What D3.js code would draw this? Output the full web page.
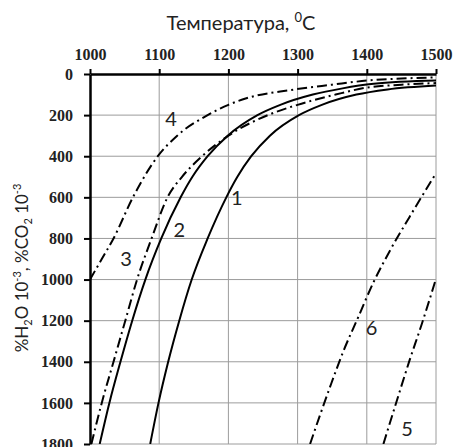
<!DOCTYPE html>
<html>
<head>
<meta charset="utf-8">
<script src="https://cdn.jsdelivr.net/npm/d3@7"></script>
<style>
  body { margin: 0; background: #fff; }
  svg { display: block; }
</style>
</head>
<body>
<svg id="chart" width="455" height="447"></svg>
<script>
// values: temperature (°C), concentration (10^-3 %)
var xTicks = [1000, 1100, 1200, 1300, 1400, 1500];
var yTicks = [0, 200, 400, 600, 800, 1000, 1200, 1400, 1600, 1800];

var curve1 = [[1087,1800],[1099,1600],[1113,1400],[1129,1200],[1147,1000],[1170,800],[1197,600],
  [1213,500],[1233,400],[1260,300],[1302,200],[1335,150],[1385,100],[1430,75],[1500,56]];
var curve2 = [[1014,1800],[1028,1600],[1044,1400],[1061,1200],[1080,1000],[1103,800],[1131,600],
  [1148,500],[1170,400],[1199,300],[1242,200],[1275,150],[1322,100],[1365,70],[1410,48],[1500,32]];
var curve3 = [[1002,1800],[1017,1600],[1034,1400],[1051,1200],[1068,1000],[1089,800],[1112,600],
  [1133,500],[1162,400],[1200,300],[1257,200],[1300,150],[1355,100],[1400,66],[1450,52],[1500,44]];
var curve4 = [[1000,1000],[1017,900],[1034,800],[1062,600],[1098,400],[1126,300],[1170,200],
  [1200,150],[1226,118],[1290,78],[1350,52],[1400,32],[1450,22],[1500,17]];
var curve5 = [[1424,1800],[1446,1561],[1462,1391],[1479,1221],[1500,996]];
var curve6 = [[1318,1800],[1347,1521],[1366,1350],[1388,1180],[1409,1018],[1434,856],[1462,694],[1500,483]];

var curveNames = ["1", "2", "3", "4", "5", "6"];
var curveData = [curve1, curve2, curve3, curve4, curve5, curve6];
var curveDashed = [false, false, true, true, true, true];

// where the curve numbers sit (in data units)
var labelT = [1212, 1129, 1052, 1117, 1458, 1407];
var labelV = [600, 760, 900, 219, 1727, 1235];

var svg = d3.select("#chart");

var x = d3.scaleLinear().domain([1000, 1500]).range([90, 436]);
var y = d3.scaleLinear().domain([0, 1800]).range([74, 444]);

var textColor = "#222";

// grid
svg.append("g")
  .selectAll("line")
  .data(xTicks.slice(1))
  .enter().append("line")
  .attr("x1", d => x(d)).attr("x2", d => x(d))
  .attr("y1", y(0)).attr("y2", y(1800))
  .attr("stroke", "#9c9c9c").attr("stroke-width", 1);

svg.append("g")
  .selectAll("line")
  .data(yTicks.slice(1))
  .enter().append("line")
  .attr("x1", x(1000)).attr("x2", x(1500))
  .attr("y1", d => y(d)).attr("y2", d => y(d))
  .attr("stroke", "#9c9c9c").attr("stroke-width", 1);

// curves
svg.append("clipPath").attr("id", "plotClip")
  .append("rect")
  .attr("x", x(1000)).attr("y", y(0))
  .attr("width", x(1500) - x(1000)).attr("height", y(1800) - y(0));

var line = d3.line()
  .x(d => x(d[0]))
  .y(d => y(d[1]))
  .curve(d3.curveMonotoneX);

var curves = svg.append("g").attr("clip-path", "url(#plotClip)");
curveData.forEach(function (c, i) {
  curves.append("path")
    .datum(c)
    .attr("fill", "none")
    .attr("stroke", "#000")
    .attr("stroke-width", 2)
    .attr("stroke-dasharray", curveDashed[i] ? "10,4,2,4" : null)
    .attr("d", line);
});

// axes
var xAxis = svg.append("g")
  .attr("transform", `translate(0, ${y(0)})`)
  .call(d3.axisTop(x).tickValues(xTicks).tickSize(5).tickSizeOuter(0).tickPadding(9).tickFormat(d3.format("d")));

var yAxis = svg.append("g")
  .attr("transform", `translate(${x(1000)}, 0)`)
  .call(d3.axisLeft(y).tickValues(yTicks).tickSize(6).tickSizeOuter(0).tickPadding(11).tickFormat(d3.format("d")));

[xAxis, yAxis].forEach(function (a) {
  a.select(".domain").attr("stroke", "#000").attr("stroke-width", 2.5);
  a.selectAll(".tick line").attr("stroke", "#000").attr("stroke-width", 2);
  a.selectAll(".tick text")
    .attr("fill", textColor)
    .style("font-family", "'Liberation Serif', 'Times New Roman', serif")
    .style("font-weight", "bold")
    .style("font-size", "16px");
});

// curve numbers
svg.append("g")
  .selectAll("text")
  .data(curveNames)
  .enter().append("text")
  .attr("x", (d, i) => x(labelT[i]))
  .attr("y", (d, i) => y(labelV[i]))
  .attr("dy", "0.36em")
  .attr("text-anchor", "middle")
  .attr("fill", textColor)
  .style("font-family", "Lato, 'Open Sans', sans-serif")
  .style("font-size", "20px")
  .text(d => d);

// title on top
var title = svg.append("text")
  .attr("x", 241)
  .attr("y", 29.5)
  .attr("text-anchor", "middle")
  .attr("fill", textColor)
  .style("font-family", "Lato, 'Open Sans', sans-serif")
  .style("font-size", "20px");
title.append("tspan").text("Температура, ");
title.append("tspan").attr("dy", "-8").style("font-size", "13px").text("0");
title.append("tspan").attr("dy", "8").text("C");

// y title, rotated
var yTitle = svg.append("text")
  .attr("transform", "translate(28, 268) rotate(-90)")
  .attr("text-anchor", "middle")
  .attr("fill", textColor)
  .style("font-family", "Lato, 'Open Sans', sans-serif")
  .style("font-size", "17px");
yTitle.append("tspan").text("%H");
yTitle.append("tspan").attr("dy", "4").style("font-size", "11px").text("2");
yTitle.append("tspan").attr("dy", "-4").text("O 10");
yTitle.append("tspan").attr("dy", "-7").style("font-size", "11px").text("-3");
yTitle.append("tspan").attr("dy", "7").text(", %CO");
yTitle.append("tspan").attr("dy", "4").style("font-size", "11px").text("2");
yTitle.append("tspan").attr("dy", "-4").text(" 10");
yTitle.append("tspan").attr("dy", "-7").style("font-size", "11px").text("-3");
</script>
</body>
</html>
